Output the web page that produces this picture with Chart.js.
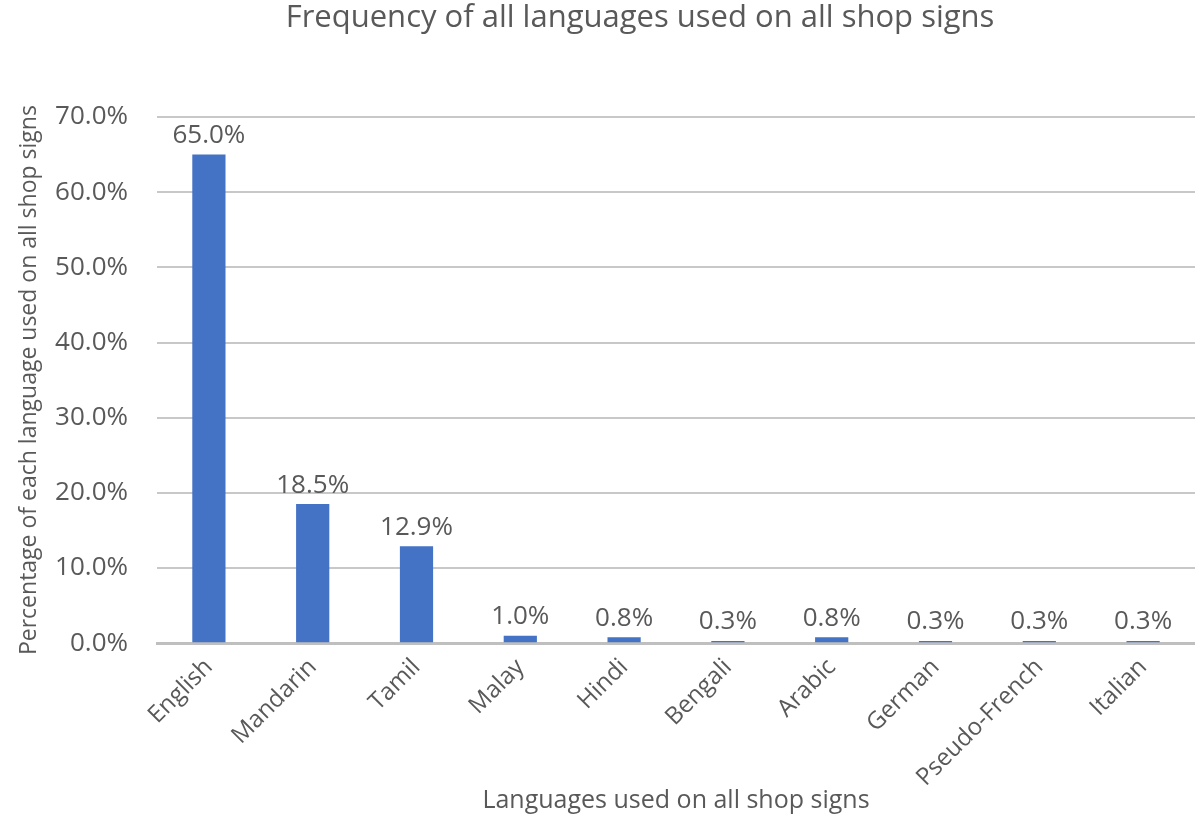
<!DOCTYPE html>
<html>
<head>
<meta charset="utf-8">
<script src="https://cdn.jsdelivr.net/npm/chart.js@4.4.0/dist/chart.umd.min.js"></script>
<style>
  html, body { margin: 0; padding: 0; background: #fff; }
  #wrap { width: 1195px; height: 818px; position: relative; }
</style>
</head>
<body>
<div id="wrap"><canvas id="chart"></canvas></div>
<script>
const languages = ['English', 'Mandarin', 'Tamil', 'Malay', 'Hindi', 'Bengali', 'Arabic', 'German', 'Pseudo-French', 'Italian'];
const percentages = [65.0, 18.5, 12.9, 1.0, 0.8, 0.3, 0.8, 0.3, 0.3, 0.3];
const yTicks = [0, 10, 20, 30, 40, 50, 60, 70];

const chartTitle = 'Frequency of all languages used on all shop signs';
const xTitle = 'Languages used on all shop signs';
const yTitle = 'Percentage of each language used on all shop signs';

const FONT = '"Open Sans", "Noto Sans", sans-serif';
const TEXT = '#595959';

// draws the value above each bar and the chart title
const labelsPlugin = {
  id: 'barLabels',
  afterDatasetsDraw(chart) {
    const { ctx } = chart;
    const meta = chart.getDatasetMeta(0);
    ctx.save();
    ctx.fillStyle = TEXT;
    ctx.font = `26px ${FONT}`;
    ctx.textAlign = 'center';
    ctx.textBaseline = 'bottom';
    meta.data.forEach((bar, i) => {
      ctx.fillText(percentages[i].toFixed(1) + '%', bar.x, bar.y - 6);
    });
    ctx.font = `31px ${FONT}`;
    ctx.textBaseline = 'middle';
    ctx.fillText(chartTitle, 640, 18);
    ctx.restore();
  },
};

new Chart(document.getElementById('chart'), {
  type: 'bar',
  data: {
    labels: languages,
    datasets: [{
      data: percentages,
      backgroundColor: '#4472C4',
      borderWidth: 0,
      barPercentage: 0.32,
      categoryPercentage: 1,
    }],
  },
  options: {
    responsive: true,
    maintainAspectRatio: false,
    animation: false,
    layout: { padding: { top: 117, right: 0, left: 16, bottom: 2 } },
    plugins: {
      legend: { display: false },
      tooltip: { enabled: false },
      title: { display: false },
    },
    scales: {
      x: {
        grid: { display: false, drawTicks: false },
        border: { color: '#bfbfbf', width: 3 },
        ticks: {
          color: TEXT,
          font: { family: FONT, size: 24 },
          minRotation: 45,
          maxRotation: 45,
          padding: 10,
        },
        title: {
          display: true,
          text: xTitle,
          color: TEXT,
          font: { family: FONT, size: 25 },
          padding: { top: 0, bottom: 0 },
        },
        afterFit(axis) {
          axis.height -= 16; // let the rotated labels sit closer to the axis title
        },
      },
      y: {
        min: 0,
        max: 70,
        afterBuildTicks(axis) {
          axis.ticks = yTicks.map((v) => ({ value: v }));
        },
        grid: { color: '#c8c8c8', lineWidth: 2, drawTicks: false },
        border: { display: false },
        ticks: {
          color: TEXT,
          font: { family: FONT, size: 26 },
          padding: 29,
          callback: (v) => v.toFixed(1) + '%',
        },
        title: {
          display: true,
          text: yTitle,
          color: TEXT,
          font: { family: FONT, size: 23 },
          padding: { top: 0, bottom: 0 },
        },
        afterFit(axis) {
          axis.width = 141;
        },
      },
    },
  },
  plugins: [labelsPlugin],
});
</script>
</body>
</html>
